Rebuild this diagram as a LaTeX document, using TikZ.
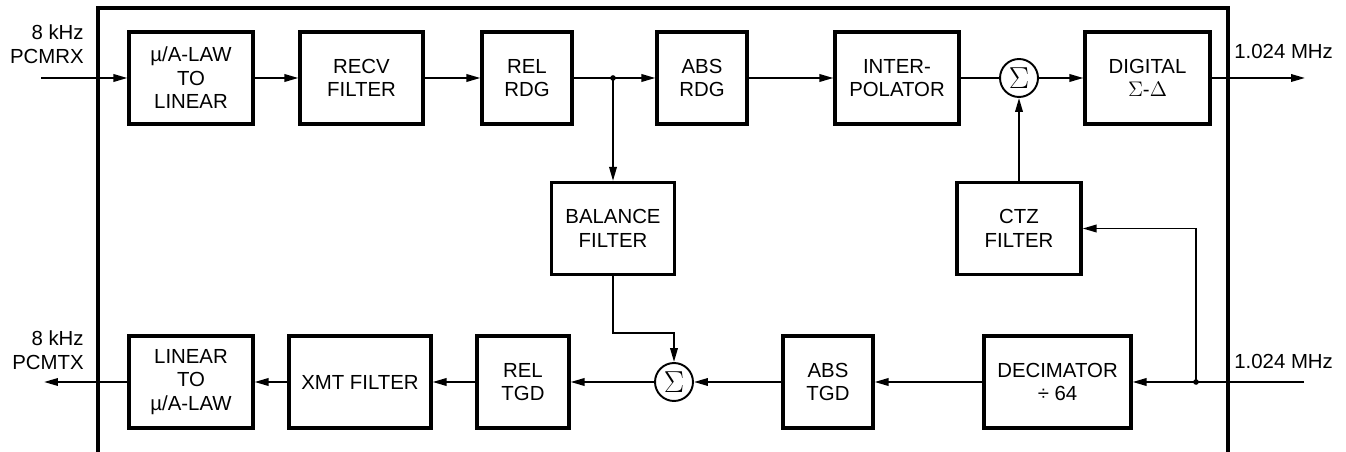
\documentclass[tikz,border=0pt]{standalone}
\usepackage{fontspec}
\setmainfont{Liberation Sans}
\usetikzlibrary{arrows.meta}
\begin{document}
\begin{tikzpicture}[x=0.02cm, y=-0.02cm,
    every node/.style={font=\fontsize{11.6}{13.4}\selectfont},
    box/.style={draw, line width=1.8pt, minimum height=1.84cm,
                inner sep=0pt, align=center},
    sum/.style={draw, circle, line width=1.1pt, minimum size=0.76cm, inner sep=0pt,
                font=\fontsize{16}{16}\selectfont},
    lbl/.style={inner sep=0pt},
    sig/.style={line width=1.1pt, -{Triangle[length=0.28cm, width=0.15cm]}}]
    \useasboundingbox (0,0) rectangle (1346,452);
    % chip outline
    \draw[line width=1.9pt] (98,452) |- (1228,8) -- (1228,452);
    % receive path
    \node[box, minimum width=2.48cm] (lin)    at (191,78)    {µ/A-LAW\\TO\\LINEAR};
    \node[box, minimum width=2.46cm] (recv)   at (361.5,78)  {RECV\\FILTER};
    \node[box, minimum width=1.80cm] (relrdg) at (527,78)    {REL\\RDG};
    \node[box, minimum width=1.80cm] (absrdg) at (702,78)    {ABS\\RDG};
    \node[box, minimum width=2.48cm] (interp) at (897,78)    {INTER-\\POLATOR};
    \node[sum]                       (sum1)   at (1019,78)   {$\Sigma$};
    \node[box, minimum width=2.50cm] (dig)    at (1147.5,78) {DIGITAL\\$\Sigma$-$\Delta$};
    % middle
    \node[box, minimum width=2.46cm] (bal)    at (613,228.5) {BALANCE\\FILTER};
    \node[box, minimum width=2.48cm] (ctz)    at (1019,228.5) {CTZ\\FILTER};
    % transmit path
    \node[box, minimum width=2.94cm] (dec)    at (1057.5,382) {DECIMATOR\\÷ 64};
    \node[box, minimum width=1.80cm] (abstgd) at (828,382)   {ABS\\TGD};
    \node[sum]                       (sum2)   at (674,382)   {$\Sigma$};
    \node[box, minimum width=1.84cm] (reltgd) at (523,382)   {REL\\TGD};
    \node[box, minimum width=2.84cm] (xmt)    at (360,382)   {XMT FILTER};
    \node[box, minimum width=2.48cm] (tolaw)  at (191,382)   {LINEAR\\TO\\µ/A-LAW};
    % pins
    \coordinate (rxin)  at (41,78);
    \coordinate (rxout) at (1305,78);
    \coordinate (txin)  at (1304,382);
    \coordinate (txout) at (44,382);
    \coordinate (tap1)  at (613,78);
    \coordinate (tap2)  at (1196,382);
    \coordinate (bend)  at (674,333);
    \node[lbl, align=right, anchor=south east] (rxlbl)  at (84,64)   {8 kHz\\PCMRX};
    \node[lbl, align=right, anchor=south east] (txlbl)  at (84,370)  {8 kHz\\PCMTX};
    \node[lbl, anchor=base west]               (mhz1)   at (1234,59) {1.024 MHz};
    \node[lbl, anchor=base west]               (mhz2)   at (1234,369) {1.024 MHz};
    % connections
    \draw[sig] (rxin)   -- (lin);
    \draw[sig] (lin)    -- (recv);
    \draw[sig] (recv)   -- (relrdg);
    \draw[sig] (relrdg) -- (absrdg);
    \draw[sig] (absrdg) -- (interp);
    \draw[line width=1.1pt] (interp) -- (sum1);
    \draw[sig] (sum1)   -- (dig);
    \draw[sig] (dig)    -- (rxout);
    \draw[sig] (tap1)   -- (bal);
    \draw[sig] (ctz)    -- (sum1);
    \draw[sig] (txin)   -- (dec);
    \draw[sig] (tap2)   |- (ctz);
    \draw[sig] (dec)    -- (abstgd);
    \draw[sig] (abstgd) -- (sum2);
    \draw[sig] (bal)    |- (bend) -- (sum2);
    \draw[sig] (sum2)   -- (reltgd);
    \draw[sig] (reltgd) -- (xmt);
    \draw[sig] (xmt)    -- (tolaw);
    \draw[sig] (tolaw)  -- (txout);
    \fill (tap1) circle[radius=1.6pt];
    \fill (tap2) circle[radius=1.6pt];
\end{tikzpicture}
\end{document}
